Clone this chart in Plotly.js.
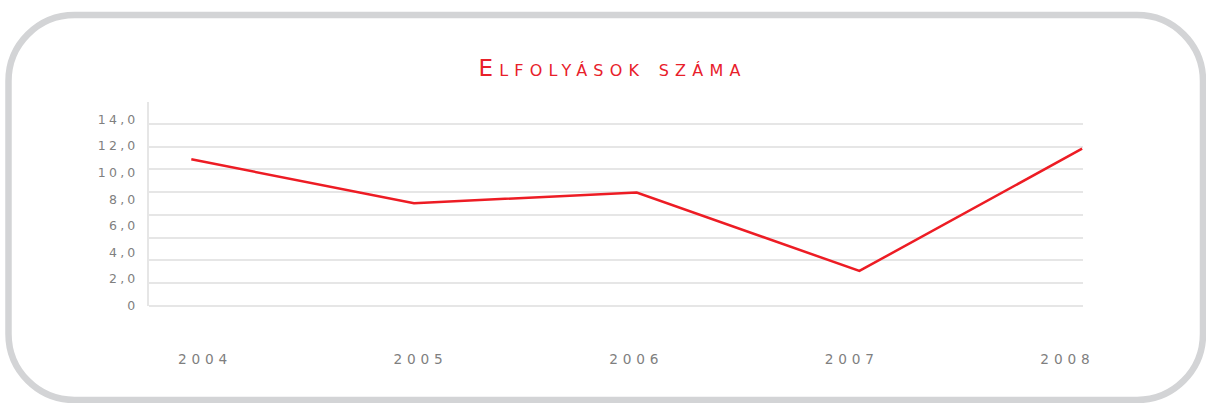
<!DOCTYPE html>
<html><head><meta charset="utf-8">
<script src="https://cdn.plot.ly/plotly-3.0.1.min.js"></script>
<style>
html,body{margin:0;padding:0;background:#fff;}
#chart{width:1206px;height:403px;}
.ytick text{letter-spacing:3.2px;}
.x2tick text{letter-spacing:4.8px;}
.gtitle{letter-spacing:6.2px;}
</style></head><body><div id="chart"></div>
<script>
// ---- data ----
const years = [2004, 2005, 2006, 2007, 2008];
const values = [11.0, 7.7, 8.5, 2.6, 11.8];
const yTickVals = [0, 2, 4, 6, 8, 10, 12, 14];
const yTickText = ['0', '2,0', '4,0', '6,0', '8,0', '10,0', '12,0', '14,0'];
const xTickText = ['2004', '2005', '2006', '2007', '2008'];
const titleText = 'Elfolyások száma';

// ---- layout geometry (pixels) ----
const W = 1206, H = 403;
const L = 149, R = 1083, T = 102, B = 306;
const pw = R - L, ph = B - T;
function px(x) { return ((x - L) / pw).toFixed(5); }
function py(y) { return ((B - y) / ph).toFixed(5); }
function borderPath(x0, y0, x1, y1, r) {
  const k = r * 0.5523;
  const p = (x, y) => px(x) + ',' + py(y);
  return 'M' + p(x0 + r, y0) +
    ' L' + p(x1 - r, y0) +
    ' C' + p(x1 - r + k, y0) + ' ' + p(x1, y0 + r - k) + ' ' + p(x1, y0 + r) +
    ' L' + p(x1, y1 - r) +
    ' C' + p(x1, y1 - r + k) + ' ' + p(x1 - r + k, y1) + ' ' + p(x1 - r, y1) +
    ' L' + p(x0 + r, y1) +
    ' C' + p(x0 + r - k, y1) + ' ' + p(x0, y1 - r + k) + ' ' + p(x0, y1 - r) +
    ' L' + p(x0, y0 + r) +
    ' C' + p(x0, y0 + r - k) + ' ' + p(x0 + r - k, y0) + ' ' + p(x0 + r, y0) + ' Z';
}

const tickFont = {family: 'DejaVu Sans', size: 12.5, color: '#7f7f7f'};
const gridCol = '#e6e6e6';

const dataTrace = {
  x: years, y: values, type: 'scatter', mode: 'lines',
  line: {color: '#ed1c24', width: 2.5},
  xaxis: 'x', yaxis: 'y', hoverinfo: 'skip', showlegend: false
};
// empty companion trace so the label x-axis and grid y-axis are drawn
const axisTrace = {
  x: [null], y: [null], type: 'scatter', mode: 'lines',
  xaxis: 'x2', yaxis: 'y2', hoverinfo: 'skip', showlegend: false
};

const layout = {
  width: W, height: H,
  margin: {l: L, r: W - R, t: T, b: H - B, autoexpand: false},
  paper_bgcolor: '#ffffff', plot_bgcolor: 'rgba(0,0,0,0)',
  showlegend: false,
  title: {
    text: titleText, xref: 'container', yref: 'container',
    x: 612.5 / W, xanchor: 'center', y: 1 - 68 / H, yanchor: 'middle',
    font: {family: 'DejaVu Sans', size: 23, color: '#e8202a', variant: 'small-caps'}
  },
  xaxis: {
    type: 'linear', range: [2003.81, 2008.004],
    showticklabels: false, showgrid: false, zeroline: false, showline: false, ticks: ''
  },
  xaxis2: {
    type: 'linear', overlaying: 'x', anchor: 'y', side: 'bottom',
    range: [2003.7403, 2008.0724],
    tickvals: years, ticktext: xTickText,
    tickfont: {family: 'DejaVu Sans', size: 13.7, color: '#7f7f7f'},
    showgrid: false, zeroline: false, showline: false, ticks: '', ticklabelstandoff: 43
  },
  yaxis: {
    type: 'linear', range: [-0.038, 15.312],
    tickvals: yTickVals, ticktext: yTickText, tickfont: tickFont,
    showgrid: false, zeroline: false, showline: true, linecolor: gridCol, linewidth: 2,
    ticks: '', ticklabelstandoff: 6
  },
  yaxis2: {
    type: 'linear', overlaying: 'y', anchor: 'x', side: 'left',
    range: [-0.026, 17.94], tick0: 0, dtick: 2,
    showticklabels: false, showgrid: true, gridcolor: gridCol, gridwidth: 2,
    zeroline: true, zerolinecolor: gridCol, zerolinewidth: 2, showline: false, ticks: ''
  },
  shapes: [{
    type: 'path', xref: 'paper', yref: 'paper', layer: 'above',
    path: borderPath(8.5, 15, 1203, 400, 66),
    line: {color: '#d3d4d6', width: 6.5}, fillcolor: 'rgba(0,0,0,0)'
  }]
};

Plotly.newPlot('chart', [dataTrace, axisTrace], layout, {displayModeBar: false, staticPlot: true});
</script></body></html>
